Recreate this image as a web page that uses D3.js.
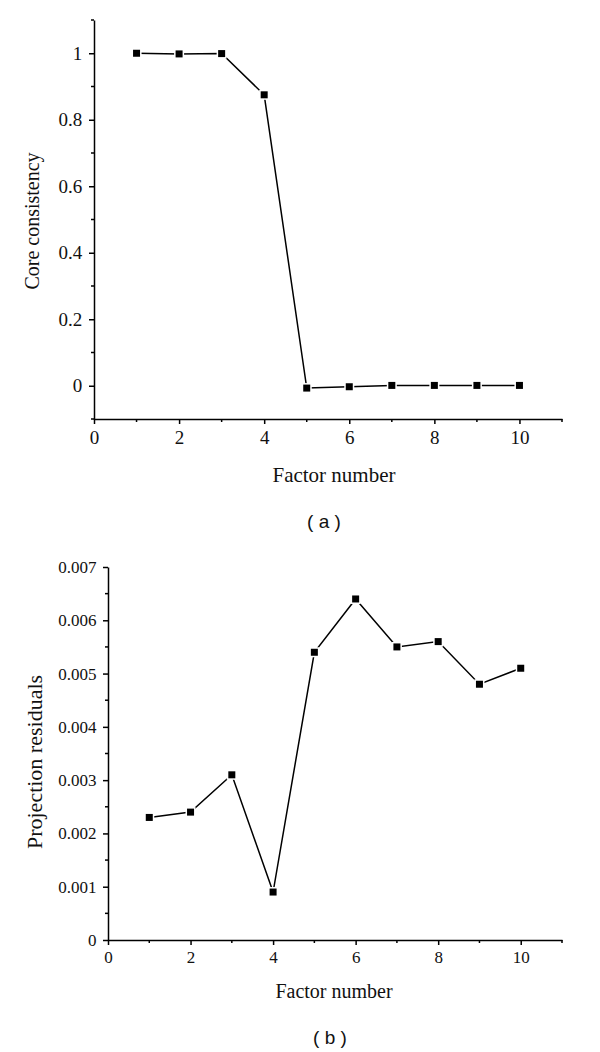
<!DOCTYPE html>
<html><head><meta charset="utf-8">
<script src="https://cdn.jsdelivr.net/npm/d3@7"></script>
<style>body{margin:0;background:#fff}svg{display:block}</style>
</head><body>
<svg id="c" width="600" height="1052"></svg>
<script>
const factors = [1,2,3,4,5,6,7,8,9,10];
const coreConsistency = [1.0,0.998,0.999,0.875,-0.007,-0.003,0.001,0.001,0.001,0.001];
const projResiduals = [0.0023,0.0024,0.0031,0.0009,0.0054,0.0064,0.0055,0.0056,0.0048,0.0051];
const xTicks = [0,2,4,6,8,10];
const xMinor = [1,3,5,7,9,11];
const yTicksA = [0,0.2,0.4,0.6,0.8,1];
const yMinorA = [-0.1,0.1,0.3,0.5,0.7,0.9,1.1];
const yTicksB = [0,0.001,0.002,0.003,0.004,0.005,0.006,0.007];
const yMinorB = [0.0005,0.0015,0.0025,0.0035,0.0045,0.0055,0.0065];

const svg = d3.select('#c');
const serif = '"Liberation Serif","DejaVu Serif",serif';

function panel(o){
  const g = svg.append('g');
  const x = d3.scaleLinear().domain([0,11]).range([o.left,o.right]);
  const y = d3.scaleLinear().domain(o.ydom).range([o.bottom,o.top]);
  const xa = g.append('g').attr('transform',`translate(0,${o.bottom})`)
    .call(d3.axisBottom(x).tickValues(xTicks).tickSize(5).tickSizeOuter(0).tickFormat(d3.format('d')));
  xa.append('g').selectAll('line').data(xMinor).join('line')
    .attr('x1',d=>x(d)).attr('x2',d=>x(d)).attr('y1',0).attr('y2',3).attr('stroke','#000').attr('stroke-width',1.5);
  const ya = g.append('g').attr('transform',`translate(${o.left},0)`)
    .call(d3.axisLeft(y).tickValues(o.yticks).tickSize(5).tickSizeOuter(0).tickFormat(o.fmt));
  ya.append('g').selectAll('line').data(o.yminor).join('line')
    .attr('y1',d=>y(d)).attr('y2',d=>y(d)).attr('x1',0).attr('x2',-3).attr('stroke','#000').attr('stroke-width',1.5);
  [xa,ya].forEach(a=>{
    a.attr('font-size',o.tickFs).attr('font-family',serif);
    a.select('.domain').attr('stroke-width',1.5);
    a.selectAll('.tick line').attr('stroke-width',1.5);
    a.selectAll('text').attr('fill','#111');
  });
  xa.selectAll('.tick text').attr('dy','0.95em').attr('y',7);
  ya.selectAll('.tick text').attr('dx','-0.2em');
  const line = d3.line().x((d,i)=>x(factors[i])).y(d=>y(d));
  g.append('path').datum(o.values).attr('d',line).attr('fill','none').attr('stroke','#000').attr('stroke-width',1.5);
  g.selectAll('rect.m').data(o.values).join('rect').attr('class','m')
    .attr('x',(d,i)=>x(factors[i])-3.5).attr('y',d=>y(d)-3.5).attr('width',7).attr('height',7)
    .attr('fill','#000').attr('stroke','#fff').attr('stroke-width',3);
  g.selectAll('rect.m2').data(o.values).join('rect').attr('class','m2')
    .attr('x',(d,i)=>x(factors[i])-3.5).attr('y',d=>y(d)-3.5).attr('width',7).attr('height',7).attr('fill','#000');
  g.append('text').attr('x',o.titleX).attr('y',o.titleY).attr('text-anchor','middle')
    .attr('font-family',serif).attr('font-size',o.titleFs).attr('fill','#111').text('Factor number');
  g.append('text').attr('transform',`translate(${o.ylx},${o.yly}) rotate(-90)`).attr('text-anchor','middle')
    .attr('font-family',serif).attr('font-size',o.ylFs).attr('fill','#111').text(o.ylabel);
  g.append('text').attr('x',o.capX).attr('y',o.capY).attr('text-anchor','middle')
    .attr('font-family','"Liberation Sans",Arial,sans-serif').attr('font-size',19).attr('fill','#111').text(o.cap);
}
panel({left:94,right:562,top:20,bottom:419,ydom:[-0.1,1.1],yticks:yTicksA,yminor:yMinorA,
  fmt:d=>d3.format('')(+d.toFixed(1)),values:coreConsistency,ylabel:'Core consistency',
  ylx:39,yly:221,tickFs:19,titleFs:21,ylFs:20,titleX:334,titleY:482,cap:'( a )',capX:324,capY:528});
panel({left:108,right:562,top:567,bottom:940,ydom:[0,0.007],yticks:yTicksB,yminor:yMinorB,
  fmt:d=>d===0?'0':d3.format('.3f')(d),values:projResiduals,ylabel:'Projection residuals',
  ylx:42,yly:762,tickFs:17,titleFs:20,ylFs:22,titleX:334,titleY:998,cap:'( b )',capX:330,capY:1044});
</script>
</body></html>
